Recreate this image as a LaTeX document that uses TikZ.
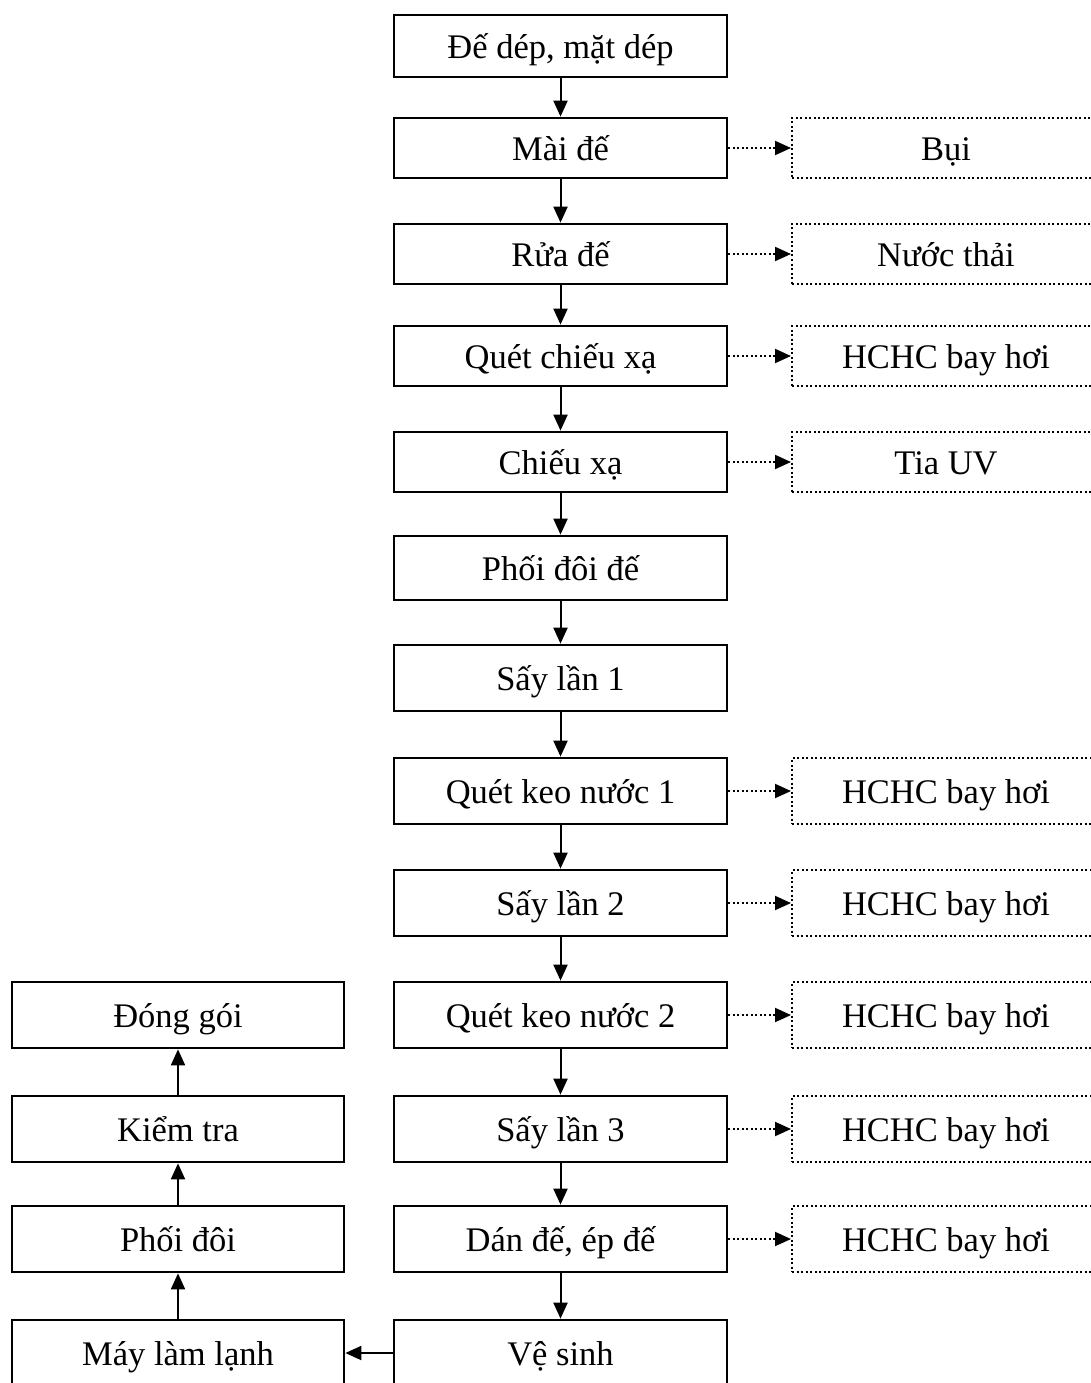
\documentclass[tikz,border=0pt]{standalone}
\usepackage{fontspec}
\setmainfont{Liberation Serif}
\usetikzlibrary{arrows.meta}
\begin{document}
\begin{tikzpicture}[x=1pt,y=-1pt,
  boxtext/.style={inner sep=0pt, text height=25pt, text depth=0pt,
    font=\fontsize{34.5}{40}\selectfont},
  stepbox/.style={boxtext, draw, line width=2.7pt, minimum width=333pt},
  wastebox/.style={boxtext, draw, line width=2pt, dash pattern=on 2pt off 2.5pt,
    minimum width=308pt},
  flow/.style={line width=2pt, -{Triangle[length=16pt,width=14pt]}},
  emit/.style={line width=2pt, dash pattern=on 2pt off 2.5pt, -{Triangle[length=16pt,width=14pt]}}]
\useasboundingbox (0,0) rectangle (1090,1383);
\fill[white] (0,0) rectangle (1090,1383);

% main process column
\node[stepbox, minimum height=62pt] (a1)  at (560.5,46)   {Đế dép, mặt dép};
\node[stepbox, minimum height=60pt] (a2)  at (560.5,148)  {Mài đế};
\node[stepbox, minimum height=60pt] (a3)  at (560.5,254)  {Rửa đế};
\node[stepbox, minimum height=60pt] (a4)  at (560.5,356)  {Quét chiếu xạ};
\node[stepbox, minimum height=60pt] (a5)  at (560.5,462)  {Chiếu xạ};
\node[stepbox, minimum height=64pt] (a6)  at (560.5,568)  {Phối đôi đế};
\node[stepbox, minimum height=66pt] (a7)  at (560.5,678)  {Sấy lần 1};
\node[stepbox, minimum height=66pt] (a8)  at (560.5,791)  {Quét keo nước 1};
\node[stepbox, minimum height=66pt] (a9)  at (560.5,903)  {Sấy lần 2};
\node[stepbox, minimum height=66pt] (a10) at (560.5,1015) {Quét keo nước 2};
\node[stepbox, minimum height=66pt] (a11) at (560.5,1129) {Sấy lần 3};
\node[stepbox, minimum height=66pt] (a12) at (560.5,1239) {Dán đế, ép đế};
\node[stepbox, minimum height=66pt] (a13) at (560.5,1353) {Vệ sinh};

% finishing column
\node[stepbox, minimum width=332pt, minimum height=66pt] (b1) at (178,1353) {Máy làm lạnh};
\node[stepbox, minimum width=332pt, minimum height=66pt] (b2) at (178,1239) {Phối đôi};
\node[stepbox, minimum width=332pt, minimum height=66pt] (b3) at (178,1129) {Kiểm tra};
\node[stepbox, minimum width=332pt, minimum height=66pt] (b4) at (178,1015) {Đóng gói};

% emissions column
\node[wastebox, minimum height=60pt] (w2)  at (946,148)  {Bụi};
\node[wastebox, minimum height=60pt] (w3)  at (946,254)  {Nước thải};
\node[wastebox, minimum height=60pt] (w4)  at (946,356)  {HCHC bay hơi};
\node[wastebox, minimum height=60pt] (w5)  at (946,462)  {Tia UV};
\node[wastebox, minimum height=66pt] (w8)  at (946,791)  {HCHC bay hơi};
\node[wastebox, minimum height=66pt] (w9)  at (946,903)  {HCHC bay hơi};
\node[wastebox, minimum height=66pt] (w10) at (946,1015) {HCHC bay hơi};
\node[wastebox, minimum height=66pt] (w11) at (946,1129) {HCHC bay hơi};
\node[wastebox, minimum height=66pt] (w12) at (946,1239) {HCHC bay hơi};

% main flow
\foreach \i [evaluate=\i as \j using int(\i+1)] in {1,...,12}
  \draw[flow] (a\i.south) -- (a\j.north);
\draw[flow] (a13.west) -- (b1.east);
\draw[flow] (b1.north) -- (b2.south);
\draw[flow] (b2.north) -- (b3.south);
\draw[flow] (b3.north) -- (b4.south);

% emissions
\foreach \i in {2,3,4,5,8,9,10,11,12}
  \draw[emit] (a\i.east) -- (w\i.west);
\end{tikzpicture}
\end{document}
